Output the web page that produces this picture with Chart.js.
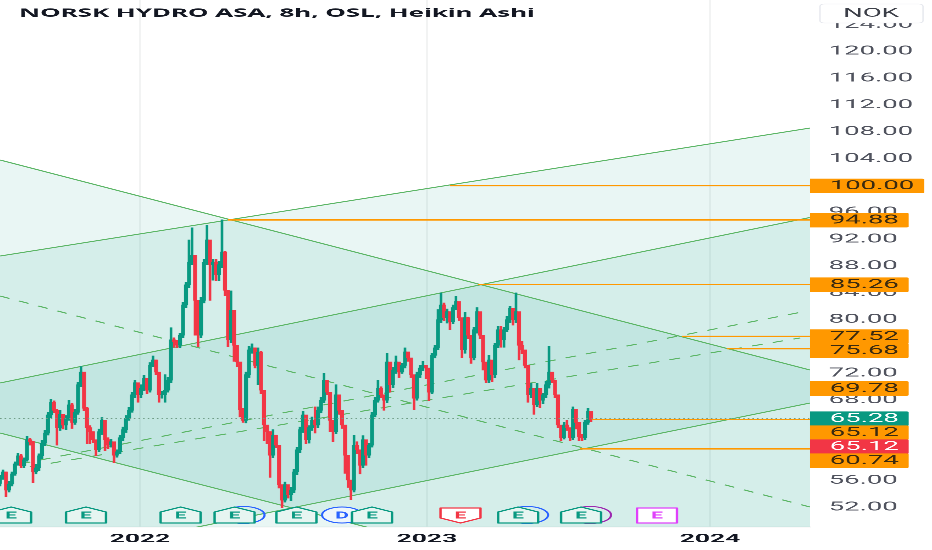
<!DOCTYPE html>
<html lang="en">
<head>
<meta charset="UTF-8">
<title>NORSK HYDRO ASA, 8h, OSL, Heikin Ashi</title>
<style>
  html, body { margin: 0; padding: 0; background: #fff; overflow: hidden; }
  /* the reference is a screenshot squeezed and pulled wide, so the whole canvas is too */
  #chart { position: absolute; left: 0; top: 0; transform-origin: 0 0; transform: scaleX(2.19811); filter: blur(0.25px); }
</style>
<script src="https://cdn.jsdelivr.net/npm/chart.js@4"></script>
</head>
<body>
<canvas id="chart" width="424" height="550"></canvas>
<script>
const chartTitle = 'NORSK HYDRO ASA, 8h, OSL, Heikin Ashi';
const currency = 'NOK';

const yearTicks = [46.67, 142.3, 236.67];
const yearLabels = ['2022', '2023', '2024'];
const priceTicks = [124, 120, 116, 112, 108, 104, 100, 96, 92, 88, 84, 80, 76, 72, 68, 64, 60, 56, 52];

const candleOpen = [
  55.6,56.4,57.3,54.6,55.5,57.0,58.5,59.7,58.2,59.1,
  62.1,61.8,57.3,57.9,59.7,61.6,63.1,65.8,67.7,66.5,
  63.9,65.9,64.3,65.3,67.3,64.7,66.2,70.3,72.2,66.8,
  63.9,63.3,62.1,60.6,63.3,65.0,62.1,61.3,61.8,59.8,
  60.3,62.4,63.6,65.3,66.5,68.8,70.6,68.8,69.8,71.3,
  69.5,73.2,74.0,72.2,68.8,68.8,69.5,71.0,77.0,76.7,
  76.2,77.7,82.2,85.2,88.6,89.6,82.9,77.7,82.9,88.6,
  91.9,88.2,88.6,86.7,88.2,90.1,84.4,77.0,81.4,76.2,
  73.7,66.6,65.0,71.8,75.5,75.8,73.2,75.1,69.5,64.3,
  63.3,59.8,62.8,61.3,55.4,53.1,55.4,53.9,54.6,57.3,
  60.6,63.6,65.8,62.1,63.9,65.0,64.3,66.5,68.0,71.0,
  69.2,65.0,63.3,68.8,66.5,64.3,59.8,56.1,54.6,61.3,
  60.6,58.3,62.1,59.8,61.3,65.8,68.0,69.8,68.8,68.0,
  73.7,70.3,72.5,73.7,72.2,73.2,75.2,74.3,71.8,68.3,
  71.8,72.8,73.2,72.8,69.2,74.7,75.8,80.0,82.2,80.3,
  81.2,79.7,81.8,82.7,80.3,75.5,80.3,77.7,74.3,78.5,
  81.2,77.7,73.7,71.0,74.0,71.8,76.2,78.5,77.0,78.5,
  80.0,81.7,80.0,81.2,76.2,75.5,73.2,68.8,69.8,67.3,
  69.8,68.0,68.8,70.3,72.2,71.0,68.8,64.3,62.4,64.3,
  63.9,62.4,66.6,64.7,62.6,62.4,64.7,66.3
];
const candleClose = [
  56.4,57.3,54.6,55.5,57.0,58.5,59.7,58.2,59.1,62.1,
  61.8,57.3,57.9,59.7,61.6,63.1,65.8,67.7,66.5,63.9,
  65.9,64.3,65.3,67.3,64.7,66.2,70.3,72.2,66.8,63.9,
  63.3,62.1,60.6,63.3,65.0,62.1,61.3,61.8,59.8,60.3,
  62.4,63.6,65.3,66.5,68.8,70.6,68.8,69.8,71.3,69.5,
  73.2,74.0,72.2,68.8,68.8,69.5,71.0,77.0,76.7,76.2,
  77.7,82.2,85.2,88.6,89.6,82.9,77.7,82.9,88.6,91.9,
  88.2,88.6,86.7,88.2,90.1,84.4,77.0,81.4,76.2,73.7,
  66.6,65.0,71.8,75.5,75.8,73.2,75.1,69.5,64.3,63.3,
  59.8,62.8,61.3,55.4,53.1,55.4,53.9,54.6,57.3,60.6,
  63.6,65.8,62.1,63.9,65.0,64.3,66.5,68.0,71.0,69.2,
  65.0,63.3,68.8,66.5,64.3,59.8,56.1,54.6,61.3,60.6,
  58.3,62.1,59.8,61.3,65.8,68.0,69.8,68.8,68.0,73.7,
  70.3,72.5,73.7,72.2,73.2,75.2,74.3,71.8,68.3,71.8,
  72.8,73.2,72.8,69.2,74.7,75.8,80.0,82.2,80.3,81.2,
  79.7,81.8,82.7,80.3,75.5,80.3,77.7,74.3,78.5,81.2,
  77.7,73.7,71.0,74.0,71.8,76.2,78.5,77.0,78.5,80.0,
  81.7,80.0,81.2,76.2,75.5,73.2,68.8,69.8,67.3,69.8,
  68.0,68.8,70.3,72.2,71.0,68.8,64.3,62.4,64.3,63.9,
  62.4,66.6,64.7,62.6,62.4,64.7,66.3,65.1
];
const candleHigh = [
  56.8,57.6,57.3,55.9,57.3,58.8,60.1,59.9,59.4,62.6,
  62.3,61.9,58.4,60.0,62.0,63.5,66.2,68.1,67.9,66.6,
  66.5,65.9,65.7,68.0,67.5,66.6,70.7,73.0,72.0,66.9,
  64.2,63.3,62.0,63.7,65.4,65.0,62.4,62.2,61.7,60.6,
  62.8,64.0,65.7,66.9,69.2,71.0,70.5,70.3,71.7,71.2,
  73.6,74.6,74.0,72.0,69.3,71.8,71.4,78.8,77.3,76.9,
  78.0,82.6,85.6,91.9,93.7,89.5,82.9,83.3,89.0,94.1,
  91.5,89.0,89.0,88.7,94.9,90.2,84.2,84.3,81.3,76.0,
  73.5,66.8,72.2,76.0,76.4,75.8,75.8,75.3,69.5,64.2,
  63.3,63.6,62.8,61.2,55.3,55.8,55.3,55.0,57.7,61.0,
  64.0,66.3,65.5,64.2,65.5,67.0,67.0,68.4,72.0,71.0,
  69.0,65.0,70.3,68.6,66.3,64.0,59.7,56.0,62.8,61.8,
  60.4,62.7,62.0,61.6,66.2,68.4,71.0,70.0,68.6,75.0,
  73.5,72.9,74.6,73.5,73.5,75.8,75.1,74.0,71.5,72.2,
  73.2,73.8,73.2,72.7,75.0,76.2,81.5,84.0,82.5,81.6,
  81.0,82.2,83.5,82.5,80.2,81.1,80.4,77.5,78.9,81.8,
  81.0,77.6,73.6,74.7,73.9,76.5,79.0,79.0,78.9,80.5,
  82.0,81.6,84.0,81.0,76.8,75.4,73.1,70.5,69.7,70.5,
  69.7,69.0,70.8,76.0,72.1,70.9,68.7,64.2,64.7,65.0,
  63.8,67.0,66.5,64.6,62.9,65.0,66.8,66.1
];
const candleLow = [
  55.2,56.2,53.6,54.3,55.2,56.8,58.3,57.9,57.9,58.9,
  61.3,55.7,57.0,57.5,59.3,61.2,62.8,65.4,66.1,61.3,
  63.5,63.7,63.6,65.0,63.8,64.4,65.9,70.0,66.4,61.5,
  61.5,61.7,59.7,60.3,62.9,60.5,60.8,61.0,58.7,59.5,
  60.0,62.0,63.2,65.0,66.2,68.4,67.7,68.4,69.4,69.0,
  69.2,73.0,71.8,67.7,68.3,67.7,69.2,70.6,75.9,75.8,
  75.8,77.3,81.8,84.8,88.2,77.7,76.0,77.3,82.5,88.2,
  82.9,85.9,85.8,85.8,87.8,83.6,76.0,76.6,73.8,73.0,
  65.5,64.7,64.6,71.4,75.0,72.8,70.3,69.0,62.0,61.5,
  56.5,59.4,60.9,54.9,52.0,52.8,53.4,53.0,54.2,56.9,
  60.2,63.2,61.5,61.6,63.5,63.1,63.9,66.1,67.6,68.8,
  63.3,61.8,63.0,65.9,63.8,57.1,55.0,53.2,54.3,60.0,
  57.0,57.9,58.3,59.4,61.0,65.5,67.7,68.4,66.5,67.6,
  69.2,69.9,72.0,71.4,72.0,72.8,73.8,71.4,66.6,68.0,
  71.4,72.4,71.2,67.9,69.0,74.3,75.5,79.6,79.9,79.5,
  78.5,79.4,81.5,79.9,74.3,75.0,77.2,73.5,74.0,78.0,
  77.2,72.5,70.6,70.6,70.8,71.4,75.8,75.9,75.9,78.2,
  79.6,79.2,79.6,74.0,74.9,72.8,67.7,68.4,65.9,67.0,
  66.9,67.5,68.4,69.8,70.6,68.4,63.9,62.0,62.2,63.5,
  62.0,62.1,63.7,62.0,62.0,62.1,64.4,64.8
];

// channel edges, all sampled at the two ends of the visible time range
const edgeBars = [0, 270];
const riseUpper = [89.50, 108.59];
const riseMiddle = [70.57, 95.25];
const riseLower = [43.13, 67.58];
const riseFoot = [23.13, 47.58];
const fallUpper = [103.82, 72.50];
const fallMiddle = [83.54, 52.07];
const fallLower = [63.11, 32.10];

const medianOneBars = [6.67, 267.3];
const medianOne = [58.49, 81.15];
const medianTwoBars = [10, 266.67];
const medianTwo = [58.08, 77.28];

const lastClose = 65.28;
const levelValues = [100, 94.88, 85.26, 77.52, 75.68, 65.12, 60.74];
const levelStarts = [150, 76, 159.3, 227.3, 242.3, 197.3, 193.3];

const tagValues = [100, 94.88, 85.26, 77.52, 75.68, 69.78, 65.28, 65.12, 65.12, 60.74];
const tagKinds = ['level', 'level', 'level', 'level', 'level', 'level', 'last', 'level', 'prev', 'level'];

const eventBars = [3.7, 28.67, 60.2, 78.2, 98.8, 114, 124, 153.5, 172.7, 193.7, 219];
const eventKinds = ['up', 'up', 'up', 'upBlue', 'up', 'div', 'up', 'down', 'upBlue', 'upPurple', 'future'];

const GREEN = '#089981';
const RED = '#f23645';
const ORANGE = '#ff9800';
const LINE_GREEN = '#5bb565';
const BAND_PALE = 'rgba(8, 153, 129, 0.089)';
const BAND_MID = 'rgba(8, 153, 129, 0.17)';
const FONT = 'Roboto, "Liberation Sans", sans-serif';

const STRETCH = 932 / 424;
const W = 424;
const PLOT_W = 810 / STRETCH;

const line = (xs, ys, extra) => ({
  type: 'line',
  data: xs.map((x, i) => ({ x, y: ys[i] })),
  pointRadius: 0,
  tension: 0,
  fill: false,
  borderWidth: 1,
  borderColor: LINE_GREEN,
  order: 5,
  ...extra
});

const candleColors = candleClose.map((c, i) => (c >= candleOpen[i] ? GREEN : RED));

const datasets = [
  // filler targets first so their indexes stay fixed
  line(edgeBars, riseFoot, { borderWidth: 0, order: 20 }),
  line(edgeBars, riseLower, { borderWidth: 0, fill: { target: 0 }, backgroundColor: BAND_PALE, order: 20 }),
  line(edgeBars, riseMiddle, { borderWidth: 0, fill: { target: 1 }, backgroundColor: BAND_MID, order: 19 }),
  line(edgeBars, riseUpper, { borderWidth: 0, fill: { target: 2 }, backgroundColor: BAND_PALE, order: 18 }),
  line(edgeBars, fallLower, { borderWidth: 0, order: 20 }),
  line(edgeBars, fallUpper, { borderWidth: 0, fill: { target: 4 }, backgroundColor: BAND_PALE, order: 17 }),
  line(edgeBars, riseUpper),
  line(edgeBars, riseMiddle),
  line(edgeBars, riseLower),
  line(edgeBars, fallUpper),
  line(edgeBars, fallLower),
  line(edgeBars, fallMiddle, { borderDash: [5, 5] }),
  line(medianOneBars, medianOne, { borderDash: [5, 5] }),
  line(medianTwoBars, medianTwo, { borderDash: [5, 5] }),
  {
    type: 'bar',
    data: candleHigh.map((h, i) => ({ x: i, y: [candleLow[i], h] })),
    backgroundColor: candleColors,
    barThickness: 0.5,
    grouped: false,
    order: 3
  },
  {
    type: 'bar',
    data: candleOpen.map((o, i) => ({ x: i, y: [o, candleClose[i]] })),
    backgroundColor: candleColors,
    barThickness: 1.15,
    grouped: false,
    order: 2
  },
  ...levelValues.map((v, i) => line([levelStarts[i], 270], [v, v], { borderColor: ORANGE, borderWidth: 1.4, order: 1 })),
  line([0, 270], [lastClose, lastClose], { borderColor: '#6f9c86', borderDash: [0.7, 1.4], order: 0 })
];

function house(ctx, x, kind) {
  const hw = 20 / STRETCH;
  const top = 507, sh = 512, bot = 523;
  ctx.beginPath();
  if (kind === 'down') {
    ctx.moveTo(x - hw, 508); ctx.lineTo(x + hw, 508); ctx.lineTo(x + hw, 518);
    ctx.lineTo(x, bot); ctx.lineTo(x - hw, 518);
  } else if (kind === 'future') {
    ctx.moveTo(x - hw, 508); ctx.lineTo(x + hw, 508); ctx.lineTo(x + hw, bot); ctx.lineTo(x - hw, bot);
  } else {
    ctx.moveTo(x, top); ctx.lineTo(x + hw, sh); ctx.lineTo(x + hw, bot);
    ctx.lineTo(x - hw, bot); ctx.lineTo(x - hw, sh);
  }
  ctx.closePath();
}

const overlay = {
  id: 'overlay',
  afterDatasetsDraw(chart) {
    const { ctx, scales: { x: xs, y: ys }, chartArea } = chart;
    ctx.save();

    // earnings / dividend badges along the bottom
    ctx.save();
    ctx.beginPath();
    ctx.rect(0, 0, chartArea.right, chartArea.bottom);
    ctx.clip();
    eventBars.forEach((bar, i) => {
      const kind = eventKinds[i];
      const x = xs.getPixelForValue(bar);
      if (kind === 'upBlue' || kind === 'upPurple') {
        ctx.beginPath();
        ctx.ellipse(x + 9 / STRETCH, 515, 21 / STRETCH, 8.5, 0, 0, Math.PI * 2);
        ctx.lineWidth = 1;
        ctx.strokeStyle = kind === 'upBlue' ? '#2962ff' : '#9c27b0';
        ctx.stroke();
      }
      if (kind === 'div') {
        ctx.beginPath();
        ctx.ellipse(x, 515, 20 / STRETCH, 8, 0, 0, Math.PI * 2);
        ctx.fillStyle = '#eef6fb';
        ctx.fill();
        ctx.lineWidth = 1;
        ctx.strokeStyle = '#2962ff';
        ctx.stroke();
        ctx.fillStyle = '#2962ff';
        ctx.font = 'bold 9.5px ' + FONT;
        ctx.textAlign = 'center';
        ctx.textBaseline = 'middle';
        ctx.fillText('D', x, 516);
        return;
      }
      const color = kind === 'down' ? RED : kind === 'future' ? '#e040fb' : GREEN;
      house(ctx, x, kind);
      ctx.fillStyle = kind === 'down' || kind === 'future' ? '#fff' : '#e6f5f1';
      ctx.fill();
      ctx.lineWidth = 1.1;
      ctx.lineJoin = 'round';
      ctx.strokeStyle = color;
      ctx.stroke();
      ctx.fillStyle = color;
      ctx.font = 'bold 9.5px ' + FONT;
      ctx.textAlign = 'center';
      ctx.textBaseline = 'middle';
      ctx.fillText('E', x, 516);
    });
    ctx.restore();

    // price tags, pushed down when they would overlap like the platform does
    const tagH = 14;
    let prevY = -100;
    ctx.font = '12.5px ' + FONT;
    ctx.textBaseline = 'middle';
    ctx.textAlign = 'left';
    tagValues.forEach((v, i) => {
      const text = v.toFixed(2);
      const kind = tagKinds[i];
      let y = ys.getPixelForValue(v);
      if (y - prevY < tagH) y = prevY + tagH;
      prevY = y;
      const w = 9 + ctx.measureText(text).width + 4.5;
      ctx.fillStyle = kind === 'last' ? GREEN : kind === 'prev' ? RED : ORANGE;
      ctx.beginPath();
      ctx.roundRect(chartArea.right, y - tagH / 2, w, tagH + 0.5, [0, 1, 1, 0]);
      ctx.fill();
      ctx.fillStyle = kind === 'level' ? '#3a2a10' : '#fff';
      ctx.fillText(text, chartArea.right + 9, y + 0.5);
    });

    // currency box over the top tick
    ctx.beginPath();
    ctx.roundRect(820 / STRETCH, 4, 103 / STRETCH, 19, 2);
    ctx.fillStyle = '#fff';
    ctx.fill();
    ctx.lineWidth = 0.6;
    ctx.strokeStyle = '#e6e8ee';
    ctx.stroke();
    ctx.fillStyle = '#3c3f48';
    ctx.textAlign = 'center';
    ctx.font = '12.5px ' + FONT;
    ctx.fillText(currency, 871 / STRETCH, 13.5);

    // symbol line
    ctx.fillStyle = '#131722';
    ctx.textAlign = 'left';
    ctx.font = 'bold 11.8px "Noto Sans", sans-serif';
    ctx.fillText(chartTitle, 19 / STRETCH, 13.5);
    ctx.restore();
  }
};

new Chart(document.getElementById('chart'), {
  type: 'bar',
  data: { datasets },
  plugins: [overlay],
  options: {
    responsive: false,
    animation: false,
    devicePixelRatio: 4,
    layout: { padding: 0 },
    plugins: { legend: { display: false }, tooltip: { enabled: false }, title: { display: false } },
    scales: {
      x: {
        type: 'linear',
        min: 0,
        max: 270,
        offset: false,
        grid: { color: 'rgba(42, 46, 57, 0.06)', drawTicks: false, offset: false },
        border: { color: 'rgba(42, 46, 57, 0.06)' },
        afterBuildTicks: axis => { axis.ticks = yearTicks.map(value => ({ value })); },
        afterFit: axis => { axis.height = 23; axis.paddingLeft = 0; axis.paddingRight = 0; },
        ticks: {
          autoSkip: false,
          maxRotation: 0,
          padding: 5,
          color: '#131722',
          font: { family: FONT, size: 12, weight: 'bold' },
          callback: value => yearLabels[yearTicks.indexOf(value)]
        }
      },
      y: {
        type: 'linear',
        position: 'right',
        min: 49.09,
        max: 127.68,
        grid: { display: false, drawTicks: false },
        border: { display: false },
        afterBuildTicks: axis => { axis.ticks = priceTicks.map(value => ({ value })); },
        afterFit: axis => { axis.width = W - PLOT_W; axis.paddingTop = 0; axis.paddingBottom = 0; },
        ticks: {
          padding: 8.5,
          crossAlign: 'near',
          color: '#50535e',
          font: { family: FONT, size: 12.5 },
          callback: value => value.toFixed(2)
        }
      }
    }
  }
});
</script>
</body>
</html>
